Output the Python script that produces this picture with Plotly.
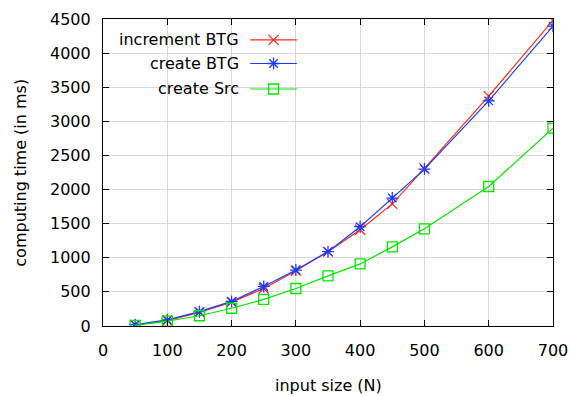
import plotly.graph_objects as go

sizes = [50, 100, 150, 200, 250, 300, 350, 400, 450, 500, 600, 700]
increment_btg = [15, 80, 200, 350, 550, 810, 1090, 1410, 1790, 2310, 3370, 4480]
create_btg = [20, 90, 210, 360, 580, 820, 1090, 1456, 1875, 2300, 3300, 4395]
create_src = [10, 70, 150, 260, 390, 550, 735, 910, 1160, 1425, 2045, 2900]

series_names = ["increment BTG", "create BTG", "create Src"]
series_colors = ["#ff2a1a", "#1a3cff", "#00e600"]
series_symbols = ["x-thin-open", "asterisk-open", "square-open"]
series_values = [increment_btg, create_btg, create_src]

x_ticks = [0, 100, 200, 300, 400, 500, 600, 700]
y_ticks = [0, 500, 1000, 1500, 2000, 2500, 3000, 3500, 4000, 4500]

FONT = "DejaVu Sans"
FS = 16

fig = go.Figure()
for name, col, sym, vals in zip(series_names, series_colors, series_symbols, series_values):
    fig.add_trace(go.Scatter(
        x=sizes, y=vals, mode="lines+markers", name=name,
        line=dict(color=col, width=1.2),
        marker=dict(symbol=sym, size=10, color=col, line=dict(color=col, width=1.3)),
        showlegend=False,
    ))

# custom gnuplot-style legend (text right-aligned, sample to the right)
leg_y = [0.932, 0.855, 0.772]
for name, col, sym, ly in zip(series_names, series_colors, series_symbols, leg_y):
    fig.add_trace(go.Scatter(
        x=[0.327, 0.431], y=[ly, ly], mode="lines", xaxis="x2", yaxis="y2",
        line=dict(color=col, width=1.2), showlegend=False, hoverinfo="skip",
    ))
    fig.add_trace(go.Scatter(
        x=[0.379], y=[ly], mode="markers", xaxis="x2", yaxis="y2",
        marker=dict(symbol=sym, size=10, color=col, line=dict(color=col, width=1.3)),
        showlegend=False, hoverinfo="skip",
    ))
    fig.add_annotation(
        x=0.307, y=ly, xref="paper", yref="paper", text=name, showarrow=False,
        xanchor="right", yanchor="middle", font=dict(family=FONT, size=FS, color="black"),
    )

# axis titles
fig.add_annotation(x=0.5, y=-0.193, xref="paper", yref="paper", text="input size (N)",
                   showarrow=False, xanchor="center", yanchor="middle",
                   font=dict(family=FONT, size=FS, color="black"))
fig.add_annotation(x=-0.184, y=0.5, xref="paper", yref="paper", text="computing time (in ms)",
                   showarrow=False, xanchor="center", yanchor="middle", textangle=-90,
                   font=dict(family=FONT, size=FS, color="black"))

axis_common = dict(
    showline=True, linecolor="black", linewidth=1.2, mirror="allticks",
    ticks="inside", ticklen=6, tickcolor="black", tickwidth=1,
    showgrid=True, gridcolor="#d9d9d9", gridwidth=1, zeroline=False,
    tickfont=dict(family=FONT, size=FS, color="black"), automargin=False,
)

fig.update_layout(
    width=571, height=396,
    margin=dict(l=103, r=18, t=19, b=70),
    paper_bgcolor="white", plot_bgcolor="white",
    xaxis=dict(range=[0, 700], tickvals=x_ticks, ticklabelstandoff=10, **axis_common),
    yaxis=dict(range=[0, 4500], tickvals=y_ticks, ticklabelstandoff=8, **axis_common),
    xaxis2=dict(overlaying="x", range=[0, 1], visible=False),
    yaxis2=dict(overlaying="y", range=[0, 1], visible=False),
    font=dict(family=FONT, size=FS, color="black"),
)

fig.write_html("out.html", config={"displayModeBar": False},
               post_script="document.body.style.margin='0';document.body.style.overflow='hidden';")
